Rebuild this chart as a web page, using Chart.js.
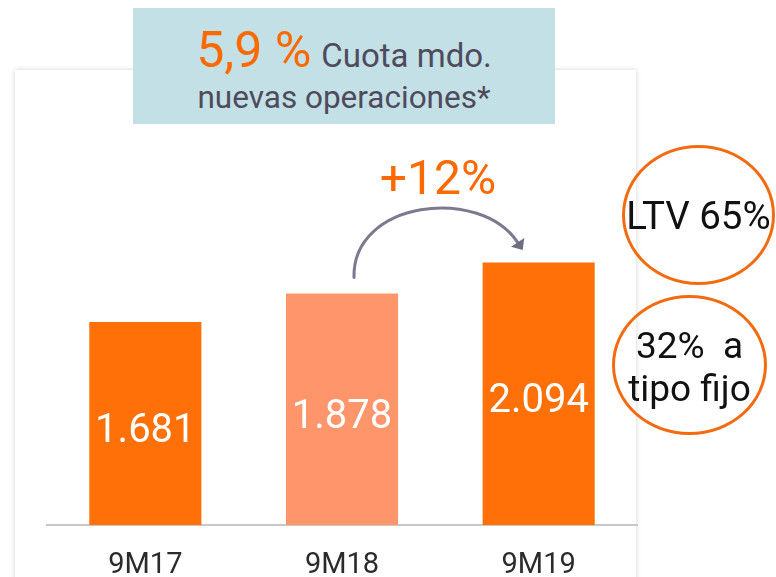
<!DOCTYPE html>
<html>
<head>
<meta charset="utf-8">
<script src="https://cdn.jsdelivr.net/npm/chart.js@4/dist/chart.umd.min.js"></script>
<style>
  body { margin: 0; width: 776px; height: 577px; overflow: hidden; background: #fff; position: relative; font-family: Roboto, "DejaVu Sans", sans-serif; }
  #card { position: absolute; left: 15px; top: 70px; width: 621px; height: 540px; background: #fff; box-shadow: 0 0 5px rgba(0,0,0,0.18); }
  #chart { position: absolute; left: 0; top: 0; }
  #box { position: absolute; left: 133px; top: 8px; width: 422px; height: 116px; background: #C2E0E5; }
  #box .l1 { position: absolute; left: 0; width: 100%; top: 17px; text-align: center; line-height: 50px; white-space: nowrap; }
  #box .big { color: #FF6A00; font-size: 50px; }
  #box .small { color: #4F4B5C; font-size: 33px; margin-left: 6px; }
  #box .l2 { position: absolute; left: 0; width: 100%; top: 74px; text-align: center; line-height: 32px; font-size: 31.5px; color: #4F4B5C; }
  #growth { position: absolute; left: 338px; top: 154px; width: 200px; text-align: center; font-size: 48px; line-height: 48px; color: #FF6A00; }
  .oval { position: absolute; box-sizing: border-box; border: 3px solid #F26B10; border-radius: 50%; display: flex; align-items: center; justify-content: center; text-align: center; color: #111; white-space: pre; }
  #o1 { left: 622px; top: 145px; width: 153px; height: 140px; font-size: 38.5px; }
  #o2 { left: 612px; top: 295px; width: 155px; height: 140px; font-size: 37px; line-height: 43px; padding-top: 3px; }
</style>
</head>
<body>
<div id="card"></div>
<canvas id="chart" width="776" height="577"></canvas>
<div id="box">
  <div class="l1"><span class="big">5,9 %</span> <span class="small">Cuota mdo.</span></div>
  <div class="l2">nuevas operaciones*</div>
</div>
<div id="growth">+12%</div>
<div class="oval" id="o1">LTV 65%</div>
<div class="oval" id="o2">32%  a
tipo fijo</div>
<script>
const categories = ['9M17', '9M18', '9M19'];
const volumes = [1681, 1878, 2094];
const barColors = ['#FF7008', '#FF956B', '#FF7008'];
const axisMin = 270;
const axisMax = 3000;

// 1681 -> "1.681"
function fmt(v) {
  return String(v).replace(/\B(?=(\d{3})+(?!\d))/g, '.');
}

const barLabels = {
  id: 'barLabels',
  afterDatasetsDraw(chart) {
    const ctx = chart.ctx;
    const meta = chart.getDatasetMeta(0);
    ctx.save();
    ctx.fillStyle = '#fff';
    ctx.font = '40px Roboto';
    ctx.textAlign = 'center';
    ctx.textBaseline = 'middle';
    meta.data.forEach((bar, i) => {
      ctx.fillText(fmt(volumes[i]), bar.x, (bar.y + bar.base) / 2 - 11);
    });
    ctx.restore();
  }
};

// curved arrow from the 9M18 bar to the 9M19 bar
const growthArrow = {
  id: 'growthArrow',
  afterDatasetsDraw(chart) {
    const ctx = chart.ctx;
    const meta = chart.getDatasetMeta(0);
    const a = meta.data[1], b = meta.data[2];
    const p0 = [a.x + 12, a.y - 16];
    const p1 = [a.x + 10, a.y - 93];
    const p2 = [b.x - 59, b.y - 77];
    const p3 = [b.x - 21, b.y - 20];
    ctx.save();
    ctx.strokeStyle = '#7B7A8E';
    ctx.fillStyle = '#6E6D82';
    ctx.lineWidth = 3;
    ctx.lineCap = 'round';
    ctx.beginPath();
    ctx.moveTo(p0[0], p0[1]);
    ctx.bezierCurveTo(p1[0], p1[1], p2[0], p2[1], p3[0], p3[1]);
    ctx.stroke();
    const ang = Math.atan2(p3[1] - p2[1], p3[0] - p2[0]);
    const tip = [p3[0] + 9 * Math.cos(ang), p3[1] + 9 * Math.sin(ang)];
    ctx.beginPath();
    ctx.moveTo(tip[0], tip[1]);
    ctx.lineTo(p3[0] + 8 * Math.cos(ang + Math.PI / 2), p3[1] + 8 * Math.sin(ang + Math.PI / 2));
    ctx.lineTo(p3[0] + 8 * Math.cos(ang - Math.PI / 2), p3[1] + 8 * Math.sin(ang - Math.PI / 2));
    ctx.closePath();
    ctx.fill();
    ctx.restore();
  }
};

new Chart(document.getElementById('chart'), {
  type: 'bar',
  data: {
    labels: categories,
    datasets: [{
      data: volumes,
      backgroundColor: barColors,
      borderWidth: 0,
      categoryPercentage: 1,
      barPercentage: 0.57
    }]
  },
  options: {
    responsive: false,
    animation: false,
    devicePixelRatio: 1,
    layout: { padding: { left: 47, right: 139, top: 132, bottom: 0 } },
    scales: {
      x: {
        grid: { display: false, drawTicks: false },
        border: { display: true, color: '#C8C8C8', width: 2 },
        ticks: { color: '#2B2B2B', padding: 26, font: { family: 'Roboto', size: 29, lineHeight: 1 } },
        afterFit(scale) { scale.height = 52; }
      },
      y: {
        display: false,
        min: axisMin,
        max: axisMax
      }
    },
    plugins: {
      legend: { display: false },
      tooltip: { enabled: false }
    }
  },
  plugins: [barLabels, growthArrow]
});
</script>
</body>
</html>
